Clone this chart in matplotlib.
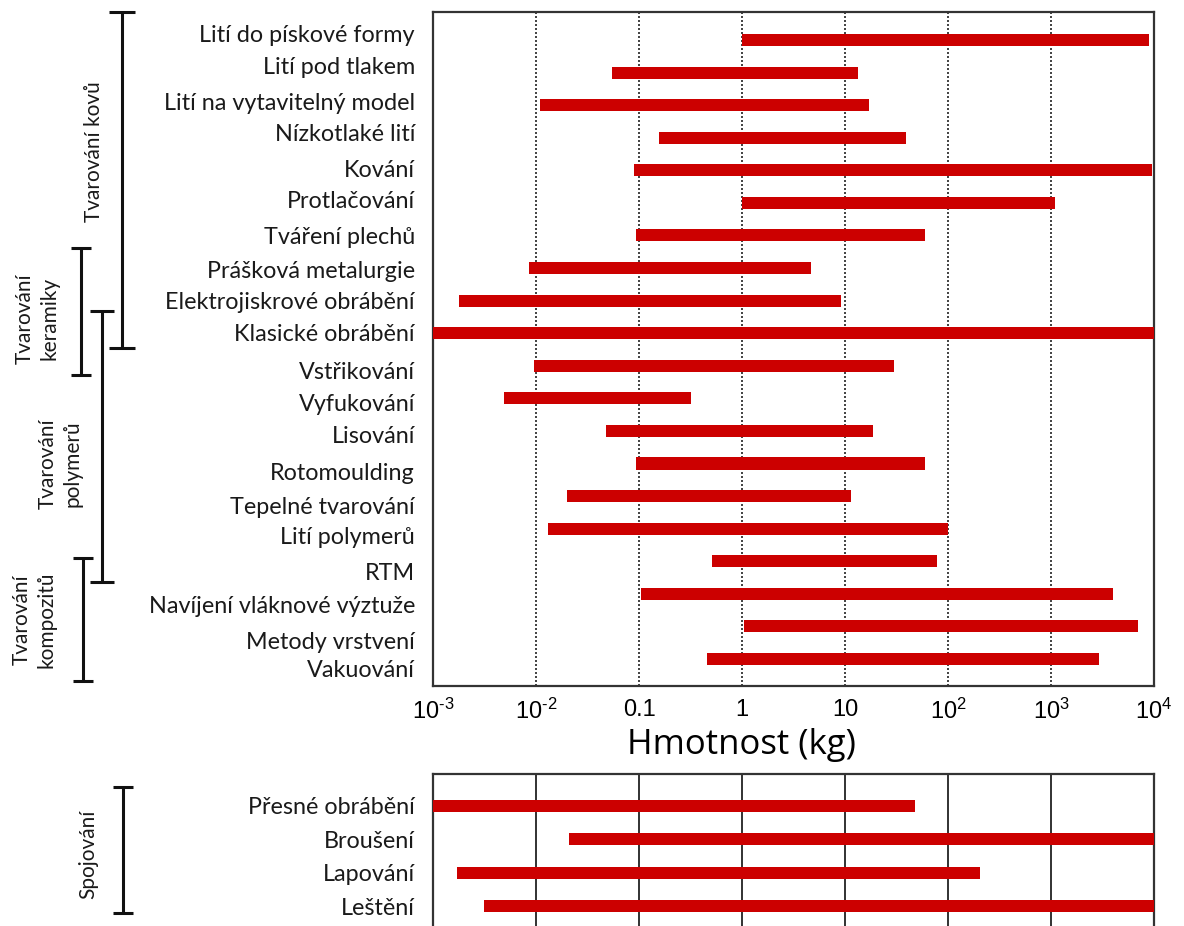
import matplotlib
matplotlib.use("Agg")
import matplotlib.pyplot as plt
import matplotlib.transforms as mtransforms

# ---- data -------------------------------------------------------------
process_labels = [
    "Lití do pískové formy", "Lití pod tlakem", "Lití na vytavitelný model",
    "Nízkotlaké lití", "Kování", "Protlačování", "Tváření plechů",
    "Prášková metalurgie", "Elektrojiskrové obrábění", "Klasické obrábění",
    "Vstřikování", "Vyfukování", "Lisování", "Rotomoulding",
    "Tepelné tvarování", "Lití polymerů", "RTM",
    "Navíjení vláknové výztuže", "Metody vrstvení", "Vakuování",
]
process_min = [1.0, 0.055, 0.011, 0.155, 0.09, 1.0, 0.094, 0.0085, 0.0018, 0.001,
               0.0096, 0.0049, 0.048, 0.094, 0.020, 0.013, 0.51, 0.105, 1.05, 0.46]
process_max = [9000, 13.4, 17, 39, 9500, 1100, 60, 4.7, 9.2, 10000,
               30, 0.32, 18.7, 60, 11.5, 100, 78, 4000, 7000, 2900]

finish_labels = ["Přesné obrábění", "Broušení", "Lapování", "Leštění"]
finish_min = [0.001, 0.021, 0.0017, 0.0031]
finish_max = [48, 10000, 205, 10000]

tick_values = [1e-3, 1e-2, 0.1, 1, 10, 1e2, 1e3, 1e4]
tick_labels = [r"10$^{\text{-3}}$", r"10$^{\text{-2}}$", "0.1", "1", "10",
               r"10$^{\text{2}}$", r"10$^{\text{3}}$", r"10$^{\text{4}}$"]

# process groups: label, first row edge, last row edge (in row units)
groups = [
    ("Tvarování kovů", -0.86, 9.45),
    ("Tvarování\nkeramiky", 6.38, 10.28),
    ("Tvarování\npolymerů", 8.31, 16.63),
    ("Tvarování\nkompozitů", 15.89, 19.69),
]
finish_group = ("Spojování", -0.55, 3.2)

# ---- style ------------------------------------------------------------
BAR = "#cc0000"
LABEL_FONT = ["Lato", "DejaVu Sans"]
plt.rcParams["mathtext.fontset"] = "custom"
plt.rcParams["mathtext.rm"] = "Liberation Sans"
plt.rcParams["mathtext.it"] = "Liberation Sans"
plt.rcParams["mathtext.sf"] = "Liberation Sans"

# vertical placement of the row captions (row units; spaced slightly wider
# than the bars themselves)
caption_rows = [-0.21, 0.77, 1.90, 2.85, 3.93, 4.91, 5.99, 7.03, 8.01, 8.99,
                10.13, 11.14, 12.12, 13.26, 14.30, 15.22, 16.33, 17.34, 18.42, 19.28]

W, H = 1184, 926
fig = plt.figure(figsize=(W / 100, H / 100), dpi=100)


def px_axes(left, top, right, bottom):
    return fig.add_axes([left / W, 1 - bottom / H, (right - left) / W, (bottom - top) / H])


def style_axes(ax, grid_ls):
    ax.set_xscale("log")
    ax.set_xlim(1e-3, 1e4)
    ax.set_xticks(tick_values)
    ax.minorticks_off()
    ax.tick_params(axis="both", length=0)
    for s in ax.spines.values():
        s.set_color("#333333")
        s.set_linewidth(1.6)
    for v in tick_values[1:-1]:
        ax.axvline(v, color="#222222", lw=1.3 if grid_ls == "-" else 1.2,
                   ls=grid_ls, zorder=1)


# ---- main chart -------------------------------------------------------
ax = px_axes(433, 12, 1154, 686)
style_axes(ax, (0, (1.2, 1.2)))
rows = list(range(len(process_labels)))
ax.barh(rows, [hi - lo for lo, hi in zip(process_min, process_max)],
        left=process_min, height=0.37, color=BAR, zorder=3)
ax.set_ylim(19.83, -0.86)
ax.set_yticks(caption_rows)
ax.set_yticklabels(process_labels, family=LABEL_FONT, fontsize=16.8, color="#1a1a1a")
ax.tick_params(axis="y", pad=13)
ax.set_xticklabels(tick_labels, family="Liberation Sans", fontsize=17)
ax.tick_params(axis="x", pad=9)
ax.set_xlabel("Hmotnost (kg)", family="Open Sans", fontsize=25)
ax.xaxis.set_label_coords((741 - 433) / 721, (686 - 728) / 674)

# ---- finishing chart --------------------------------------------------
ax2 = px_axes(433, 774, 1154, 945)
style_axes(ax2, "-")
rows2 = list(range(len(finish_labels)))
ax2.barh(rows2, [hi - lo for lo, hi in zip(finish_min, finish_max)],
         left=finish_min, height=0.36, color=BAR, zorder=3)
ax2.set_ylim(4.15, -0.94)
ax2.set_yticks(rows2)
ax2.set_yticklabels(finish_labels, family=LABEL_FONT, fontsize=16.8, color="#1a1a1a")
ax2.tick_params(axis="y", pad=13)
ax2.set_xticklabels([])


# ---- group brackets ---------------------------------------------------
def bracket(axis, x_px, y0, y1, half_cap):
    tr = mtransforms.blended_transform_factory(fig.transFigure, axis.transData)
    x = x_px / W
    c = half_cap / W
    kw = dict(transform=tr, clip_on=False, color="#111111", lw=2.2,
              solid_capstyle="butt")
    axis.plot([x, x], [y0, y1], **kw)
    axis.plot([x - c, x + c], [y0, y0], **kw)
    axis.plot([x - c, x + c], [y1, y1], **kw)


def group_label(axis, x_px, y, text):
    tr = mtransforms.blended_transform_factory(fig.transFigure, axis.transData)
    axis.text(x_px / W, y, text, transform=tr, rotation=90, ha="center",
              va="center", multialignment="center", family=LABEL_FONT,
              fontsize=15, color="#1a1a1a", linespacing=1.3, clip_on=False)


bracket_x = [122, 81, 102, 83]
caps = [13, 10, 12, 10]
label_x = [94, 37, 60, 34]
label_y = [3.44, 8.56, 13.0, 17.8]
for (name, y0, y1), bx, cp, lx, ly in zip(groups, bracket_x, caps, label_x, label_y):
    bracket(ax, bx, y0, y1, cp)
    group_label(ax, lx, ly, name)

bracket(ax2, 123, finish_group[1], finish_group[2], 10)
group_label(ax2, 88, 1.45, finish_group[0])

fig.savefig("out.png", dpi=100)
